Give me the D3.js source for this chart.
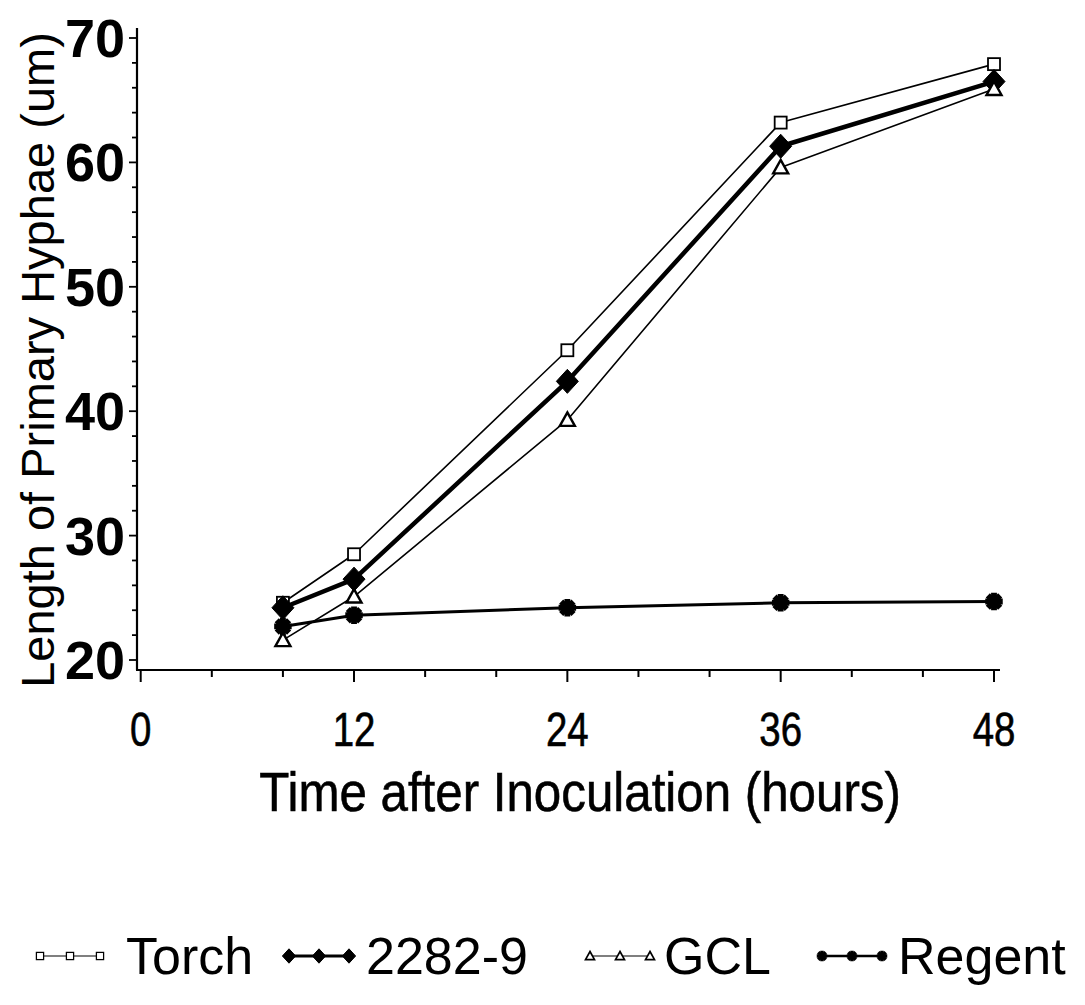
<!DOCTYPE html>
<html>
<head>
<meta charset="utf-8">
<script src="https://cdn.jsdelivr.net/npm/d3@7"></script>
<style>
  html, body { margin: 0; padding: 0; background: #fff; }
  svg { display: block; }
</style>
</head>
<body>
<svg id="chart" width="1085" height="1005"></svg>
<script>
// ---- data ----
const hours = [8, 12, 24, 36, 48];
const torch = [24.6, 28.5, 44.9, 63.2, 67.9];
const line2282 = [24.2, 26.5, 42.4, 61.3, 66.5];
const gcl = [21.6, 25.1, 39.3, 59.6, 65.9];
const regent = [22.7, 23.6, 24.2, 24.6, 24.7];
const seriesNames = ["Torch", "2282-9", "GCL", "Regent"];
const xTickLabels = [0, 12, 24, 36, 48];
const yTickLabels = [20, 30, 40, 50, 60, 70];

const svg = d3.select("#chart");
const x = d3.scaleLinear().domain([0, 48]).range([140.7, 994]);
const y = d3.scaleLinear().domain([20, 70]).range([660, 38]);

const axisX = 137, axisY = 670;

// axes lines
svg.append("line").attr("x1", axisX).attr("x2", axisX).attr("y1", 28).attr("y2", axisY)
  .attr("stroke", "#000").attr("stroke-width", 2.2);
svg.append("line").attr("x1", axisX - 1).attr("x2", 1000).attr("y1", axisY).attr("y2", axisY)
  .attr("stroke", "#000").attr("stroke-width", 2.2);

// y ticks
const yTicks = d3.range(20, 71, 2);
svg.selectAll(".yt").data(yTicks).enter().append("line")
  .attr("x1", d => axisX - (d % 10 === 0 ? 8 : 5)).attr("x2", axisX)
  .attr("y1", d => y(d)).attr("y2", d => y(d))
  .attr("stroke", "#000").attr("stroke-width", 1.8);
svg.selectAll(".yl").data(yTickLabels).enter().append("text")
  .attr("x", 125).attr("y", d => y(d) + 19)
  .attr("text-anchor", "end")
  .attr("font-family", "Liberation Sans, Arial, sans-serif")
  .attr("font-weight", "bold").attr("font-size", 54)
  .text(d => d);

// x ticks
const xTicks = d3.range(0, 49, 4);
svg.selectAll(".xt").data(xTicks).enter().append("line")
  .attr("x1", d => x(d)).attr("x2", d => x(d))
  .attr("y1", axisY).attr("y2", d => axisY + (d % 12 === 0 ? 12 : 7))
  .attr("stroke", "#000").attr("stroke-width", 2);
svg.selectAll(".xl").data(xTickLabels).enter().append("text")
  .attr("transform", d => `translate(${x(d)},746) scale(0.8,1)`)
  .attr("text-anchor", "middle")
  .attr("font-family", "Liberation Sans, Arial, sans-serif")
  .attr("font-size", 48)
  .attr("stroke", "#000").attr("stroke-width", 0.6)
  .text(d => d);

// axis titles
svg.append("text")
  .attr("transform", "translate(54," + 360 + ") rotate(-90)")
  .attr("text-anchor", "middle")
  .attr("font-family", "Liberation Sans, Arial, sans-serif")
  .attr("font-size", 47)
  .text("Length of Primary Hyphae (um)");
svg.append("text")
  .attr("transform", "translate(580,811) scale(0.88,1)")
  .attr("text-anchor", "middle")
  .attr("font-family", "Liberation Sans, Arial, sans-serif")
  .attr("font-size", 56)
  .attr("stroke", "#000").attr("stroke-width", 0.6)
  .text("Time after Inoculation (hours)");

// series
const series = [
  { name: seriesNames[0], vals: torch, width: 1.6, sym: "square" },
  { name: seriesNames[1], vals: line2282, width: 4.5, sym: "diamond" },
  { name: seriesNames[2], vals: gcl, width: 1.6, sym: "triangle" },
  { name: seriesNames[3], vals: regent, width: 3, sym: "star" }
];

function drawMarker(g, type, cx, cy, scale) {
  const s = scale || 1;
  if (type === "square") {
    const h = 6 * s;
    g.append("rect").attr("x", cx - h).attr("y", cy - h).attr("width", 2 * h).attr("height", 2 * h)
      .attr("fill", "#fff").attr("stroke", "#000").attr("stroke-width", 1.8 * Math.max(s, 0.7));
  } else if (type === "diamond") {
    g.append("path").attr("d", `M0,${-12 * s}L${11 * s},0L0,${12 * s}L${-11 * s},0Z`)
      .attr("transform", `translate(${cx},${cy})`).attr("fill", "#000").attr("stroke", "#000").attr("stroke-width", 1);
  } else if (type === "triangle") {
    g.append("path").attr("d", `M0,${-7.5 * s}L${7.5 * s},${6 * s}L${-7.5 * s},${6 * s}Z`)
      .attr("transform", `translate(${cx},${cy})`).attr("fill", "#fff").attr("stroke", "#000").attr("stroke-width", 2.4 * Math.max(s, 0.7));
  } else {
    const cross = d3.symbol().type(d3.symbolCross).size(170 * s * s)();
    g.append("path").attr("d", cross)
      .attr("transform", `translate(${cx},${cy}) rotate(45)`).attr("fill", "#000");
    g.append("path").attr("d", cross)
      .attr("transform", `translate(${cx},${cy})`).attr("fill", "#000");
    g.append("circle").attr("cx", cx).attr("cy", cy).attr("r", 4.5 * s).attr("fill", "#000");
  }
}

const line = d3.line().x((d, i) => x(hours[i])).y(d => y(d));
const plot = svg.append("g");
series.forEach(s => {
  plot.append("path").attr("d", line(s.vals)).attr("fill", "none")
    .attr("stroke", "#000").attr("stroke-width", s.width).attr("stroke-linejoin", "round");
});
series.forEach(s => {
  s.vals.forEach((v, i) => drawMarker(plot, s.sym, x(hours[i]), y(v), 1));
});

// legend
const legendX = [40, 289, 590, 822];
const legendText = [126, 366, 664, 898];
const ly = 956;
const leg = svg.append("g");
series.forEach((s, k) => {
  const x0 = legendX[k];
  const xs = [x0, x0 + 30, x0 + 60];
  leg.append("line").attr("x1", xs[0]).attr("x2", xs[2]).attr("y1", ly).attr("y2", ly)
    .attr("stroke", "#000").attr("stroke-width", k === 1 ? 3 : (k === 3 ? 2.5 : 1.2));
  xs.forEach(px => drawMarker(leg, s.sym, px, ly, 0.6));
  leg.append("text").attr("x", legendText[k]).attr("y", ly + 18)
    .attr("font-family", "Liberation Sans, Arial, sans-serif")
    .attr("font-size", 52).text(s.name);
});
</script>
</body>
</html>
